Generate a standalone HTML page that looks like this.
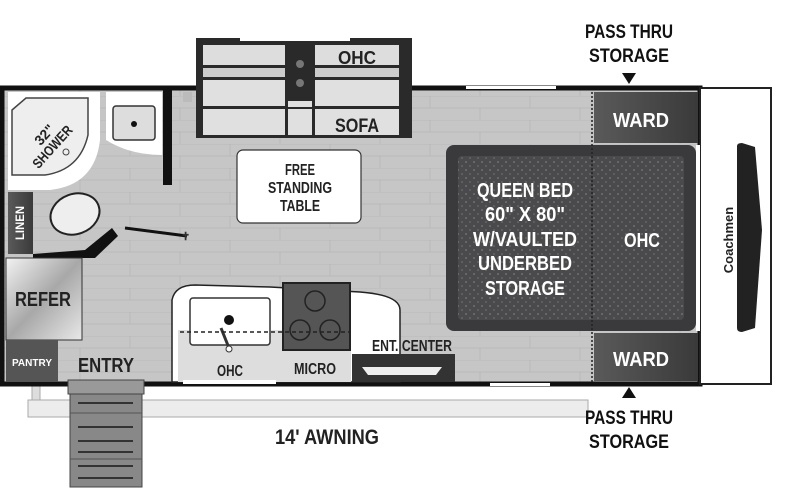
<!DOCTYPE html>
<html><head><meta charset="utf-8"><style>
html,body{margin:0;padding:0;background:#fff;}
svg{display:block}
text{font-family:"Liberation Sans",sans-serif;font-weight:bold;}
</style></head><body>
<svg width="800" height="497" viewBox="0 0 800 497" xmlns="http://www.w3.org/2000/svg">
<defs>
<pattern id="planks" width="100" height="24" patternUnits="userSpaceOnUse">
<rect width="100" height="24" fill="#c6c6c6"/>
<line x1="0" y1="0" x2="100" y2="0" stroke="#b9b9b9" stroke-width="1"/>
<line x1="0" y1="12" x2="100" y2="12" stroke="#b9b9b9" stroke-width="1"/>
<line x1="30" y1="0" x2="30" y2="12" stroke="#b9b9b9"/>
<line x1="80" y1="12" x2="80" y2="24" stroke="#b9b9b9"/>
</pattern>
<pattern id="dots" width="8" height="8" patternUnits="userSpaceOnUse">
<rect width="8" height="8" fill="#4a4a4c"/>
<circle cx="2" cy="2" r="0.8" fill="#8a8a8a"/><circle cx="6" cy="6" r="0.8" fill="#777"/>
</pattern>
<linearGradient id="steel" x1="0" y1="0" x2="1" y2="1">
<stop offset="0" stop-color="#f2f2f2"/><stop offset="0.5" stop-color="#a8a8a8"/><stop offset="1" stop-color="#e8e8e8"/>
</linearGradient>
<linearGradient id="dk" x1="0" y1="0" x2="1" y2="0">
<stop offset="0" stop-color="#5a5a5a"/><stop offset="1" stop-color="#3a3a3a"/>
</linearGradient>
</defs>

<!-- awning -->
<rect x="28" y="400" width="560" height="17" fill="#ececec" stroke="#aaa"/>
<rect x="32" y="384" width="8" height="16" fill="#ddd" stroke="#aaa"/>
<!-- main body -->
<rect x="2" y="88" width="698" height="296" fill="url(#planks)" stroke="#111" stroke-width="5"/>
<!-- front cap -->
<rect x="700" y="88" width="71" height="296" fill="#fff" stroke="#222" stroke-width="2"/>
<path d="M737 146 Q737 143 742 143 L755 147 L762 230 L755 328 L742 332 Q737 332 737 328 Z" fill="#222"/>
<text transform="translate(733,240) rotate(-90)" font-size="13" font-weight="normal" font-family="Liberation Serif" text-anchor="middle" fill="#222">Coachmen</text>

<!-- slide-out sofa -->
<rect x="196" y="38" width="216" height="100" fill="#2a2a2a"/>
<rect x="240" y="38" width="110" height="3" fill="#fff"/>
<rect x="203" y="45" width="82" height="20" fill="#ddd"/>
<rect x="315" y="45" width="84" height="20" fill="#ddd"/>
<rect x="203" y="68" width="82" height="9" fill="#ccc"/>
<rect x="315" y="68" width="84" height="9" fill="#ccc"/>
<rect x="203" y="80" width="82" height="26" fill="#e0e0e0"/>
<rect x="315" y="80" width="84" height="26" fill="#e0e0e0"/>
<rect x="203" y="109" width="82" height="26" fill="#e0e0e0"/>
<rect x="315" y="109" width="84" height="26" fill="#e0e0e0"/>
<rect x="288" y="101" width="24" height="6" fill="#e0e0e0"/>
<rect x="288" y="109" width="24" height="26" fill="#e0e0e0"/>
<circle cx="300" cy="64" r="4" fill="#777"/><circle cx="300" cy="83" r="4" fill="#777"/>
<text x="357" y="64" font-size="18" text-anchor="middle" fill="#222" textLength="38" lengthAdjust="spacingAndGlyphs">OHC</text>
<text x="357" y="132" font-size="19" text-anchor="middle" fill="#222" textLength="44" lengthAdjust="spacingAndGlyphs">SOFA</text>

<!-- bathroom -->
<path d="M8 92 L100 92 L100 140 Q95 185 50 190 L8 190 Z" fill="#fff"/>
<path d="M12 110 L26 98 L88 98 L88 135 Q80 170 45 175 L12 175 Z" fill="#eee" stroke="#444" stroke-width="1.5"/>
<text transform="translate(48,138) rotate(-48)" font-size="14" text-anchor="middle" fill="#222">32"</text>
<text transform="translate(56,150) rotate(-48)" font-size="14" text-anchor="middle" fill="#222" textLength="52" lengthAdjust="spacingAndGlyphs">SHOWER</text>
<circle cx="66" cy="152" r="3" fill="none" stroke="#444"/>
<path d="M106 92 L162 92 L162 155 Q130 155 106 140 Z" fill="#fff"/>
<rect x="113" y="106" width="42" height="34" rx="3" fill="#ddd" stroke="#333" stroke-width="1.5"/>
<circle cx="134" cy="124" r="3" fill="#111"/>
<rect x="163" y="90" width="9" height="95" fill="#111"/>
<rect x="183" y="92" width="9" height="10" fill="#bbb"/>
<rect x="8" y="192" width="25" height="62" fill="url(#dk)"/>
<text transform="translate(24,223) rotate(-90)" font-size="12" text-anchor="middle" fill="#fff" textLength="34" lengthAdjust="spacingAndGlyphs">LINEN</text>
<ellipse cx="75" cy="214" rx="25" ry="20" transform="rotate(-20 75 214)" fill="#eee" stroke="#222" stroke-width="2"/>
<path d="M85 250 L112 228 L118 236 L95 258 L33 258 L33 254 Z" fill="#111"/>
<line x1="125" y1="228" x2="187" y2="236" stroke="#111" stroke-width="3"/>
<text x="181" y="240" font-size="11" fill="#333">✝</text>

<!-- refer / pantry -->
<rect x="6" y="258" width="76" height="82" fill="url(#steel)" stroke="#333"/>
<text x="43" y="306" font-size="20" text-anchor="middle" fill="#222" textLength="56" lengthAdjust="spacingAndGlyphs">REFER</text>
<rect x="6" y="340" width="52" height="42" fill="#555"/>
<text x="32" y="366" font-size="10" text-anchor="middle" fill="#fff">PANTRY</text>
<text x="106" y="372" font-size="20" text-anchor="middle" fill="#222" textLength="56" lengthAdjust="spacingAndGlyphs">ENTRY</text>

<!-- steps -->
<rect x="68" y="380" width="76" height="14" fill="#999" stroke="#444"/>
<rect x="70" y="394" width="72" height="93" fill="#888" stroke="#444"/>
<g stroke="#333" stroke-width="2">
<line x1="78" y1="403" x2="133" y2="403"/><line x1="78" y1="427" x2="133" y2="427"/>
<line x1="78" y1="441" x2="133" y2="441"/><line x1="78" y1="452" x2="133" y2="452"/>
<line x1="78" y1="466" x2="133" y2="466"/><line x1="78" y1="478" x2="133" y2="478"/>
</g>
<line x1="70" y1="413" x2="142" y2="413" stroke="#555"/><line x1="70" y1="459" x2="142" y2="459" stroke="#555"/>

<!-- kitchen -->
<path d="M172 382 L172 300 Q175 285 195 285 L270 287 L360 292 Q400 295 400 310 L400 382 Z" fill="#fff" stroke="#222" stroke-width="1.5"/>
<rect x="178" y="330" width="173" height="52" fill="#ddd"/>
<rect x="190" y="298" width="80" height="47" rx="3" fill="#fff" stroke="#333" stroke-width="1.5"/>
<circle cx="229" cy="320" r="5" fill="#111"/>
<line x1="221" y1="328" x2="229" y2="348" stroke="#333" stroke-width="3"/>
<circle cx="229" cy="349" r="3" fill="#fff" stroke="#333"/>
<rect x="283" y="283" width="67" height="67" fill="#555" stroke="#222" stroke-width="2"/>
<g fill="none" stroke="#222" stroke-width="1.5"><circle cx="315" cy="301" r="10"/><circle cx="300" cy="330" r="10"/><circle cx="330" cy="330" r="10"/></g>
<line x1="180" y1="332" x2="350" y2="332" stroke="#222" stroke-width="1.5" stroke-dasharray="4 3"/>
<text x="230" y="376" font-size="16" text-anchor="middle" fill="#222" textLength="26" lengthAdjust="spacingAndGlyphs">OHC</text>
<text x="315" y="374" font-size="16" text-anchor="middle" fill="#222" textLength="42" lengthAdjust="spacingAndGlyphs">MICRO</text>
<text x="412" y="351" font-size="16" text-anchor="middle" fill="#222" textLength="80" lengthAdjust="spacingAndGlyphs">ENT. CENTER</text>
<rect x="352" y="354" width="103" height="28" fill="#333"/>
<path d="M362 367 L442 367 L436 375 L368 375 Z" fill="#eee"/>
<rect x="183" y="380" width="93" height="4" fill="#fff"/>

<!-- table -->
<rect x="237" y="150" width="124" height="73" rx="6" fill="#fff" stroke="#333" stroke-width="1.2"/>
<text x="300" y="175" font-size="16" text-anchor="middle" fill="#222" textLength="30" lengthAdjust="spacingAndGlyphs">FREE</text>
<text x="300" y="193" font-size="16" text-anchor="middle" fill="#222" textLength="64" lengthAdjust="spacingAndGlyphs">STANDING</text>
<text x="300" y="211" font-size="16" text-anchor="middle" fill="#222" textLength="40" lengthAdjust="spacingAndGlyphs">TABLE</text>

<!-- bed -->
<rect x="446" y="145" width="250" height="186" rx="8" fill="#3a3a3c"/>
<rect x="458" y="156" width="226" height="164" rx="4" fill="url(#dots)"/>
<line x1="592" y1="92" x2="592" y2="382" stroke="#222" stroke-width="1.5" stroke-dasharray="2 2"/>
<g font-size="20" text-anchor="middle" fill="#fff" lengthAdjust="spacingAndGlyphs">
<text x="525" y="197" textLength="96" lengthAdjust="spacingAndGlyphs">QUEEN BED</text>
<text x="525" y="221" textLength="80" lengthAdjust="spacingAndGlyphs">60" X 80"</text>
<text x="525" y="246" textLength="104" lengthAdjust="spacingAndGlyphs">W/VAULTED</text>
<text x="525" y="270" textLength="94" lengthAdjust="spacingAndGlyphs">UNDERBED</text>
<text x="525" y="295" textLength="80" lengthAdjust="spacingAndGlyphs">STORAGE</text>
<text x="642" y="247" textLength="36" lengthAdjust="spacingAndGlyphs">OHC</text>
</g>
<rect x="594" y="92" width="104" height="51" fill="url(#dk)"/>
<rect x="594" y="333" width="104" height="48" fill="url(#dk)"/>
<text x="641" y="127" font-size="20" text-anchor="middle" fill="#fff" textLength="56" lengthAdjust="spacingAndGlyphs">WARD</text>
<text x="641" y="366" font-size="20" text-anchor="middle" fill="#fff" textLength="56" lengthAdjust="spacingAndGlyphs">WARD</text>
<rect x="696" y="145" width="4" height="186" fill="#fff"/>
<rect x="466" y="86" width="90" height="3" fill="#fff"/>
<rect x="490" y="383" width="60" height="3" fill="#fff"/>

<!-- labels -->
<text x="629" y="38" font-size="19" text-anchor="middle" fill="#111" textLength="88" lengthAdjust="spacingAndGlyphs">PASS THRU</text>
<text x="629" y="62" font-size="19" text-anchor="middle" fill="#111" textLength="80" lengthAdjust="spacingAndGlyphs">STORAGE</text>
<path d="M622 73 L636 73 L629 84 Z" fill="#111"/>
<path d="M622 398 L636 398 L629 387 Z" fill="#111"/>
<text x="629" y="424" font-size="19" text-anchor="middle" fill="#111" textLength="88" lengthAdjust="spacingAndGlyphs">PASS THRU</text>
<text x="629" y="448" font-size="19" text-anchor="middle" fill="#111" textLength="80" lengthAdjust="spacingAndGlyphs">STORAGE</text>
<text x="327" y="444" font-size="21" text-anchor="middle" fill="#222" textLength="104" lengthAdjust="spacingAndGlyphs">14' AWNING</text>
</svg>
</body></html>
